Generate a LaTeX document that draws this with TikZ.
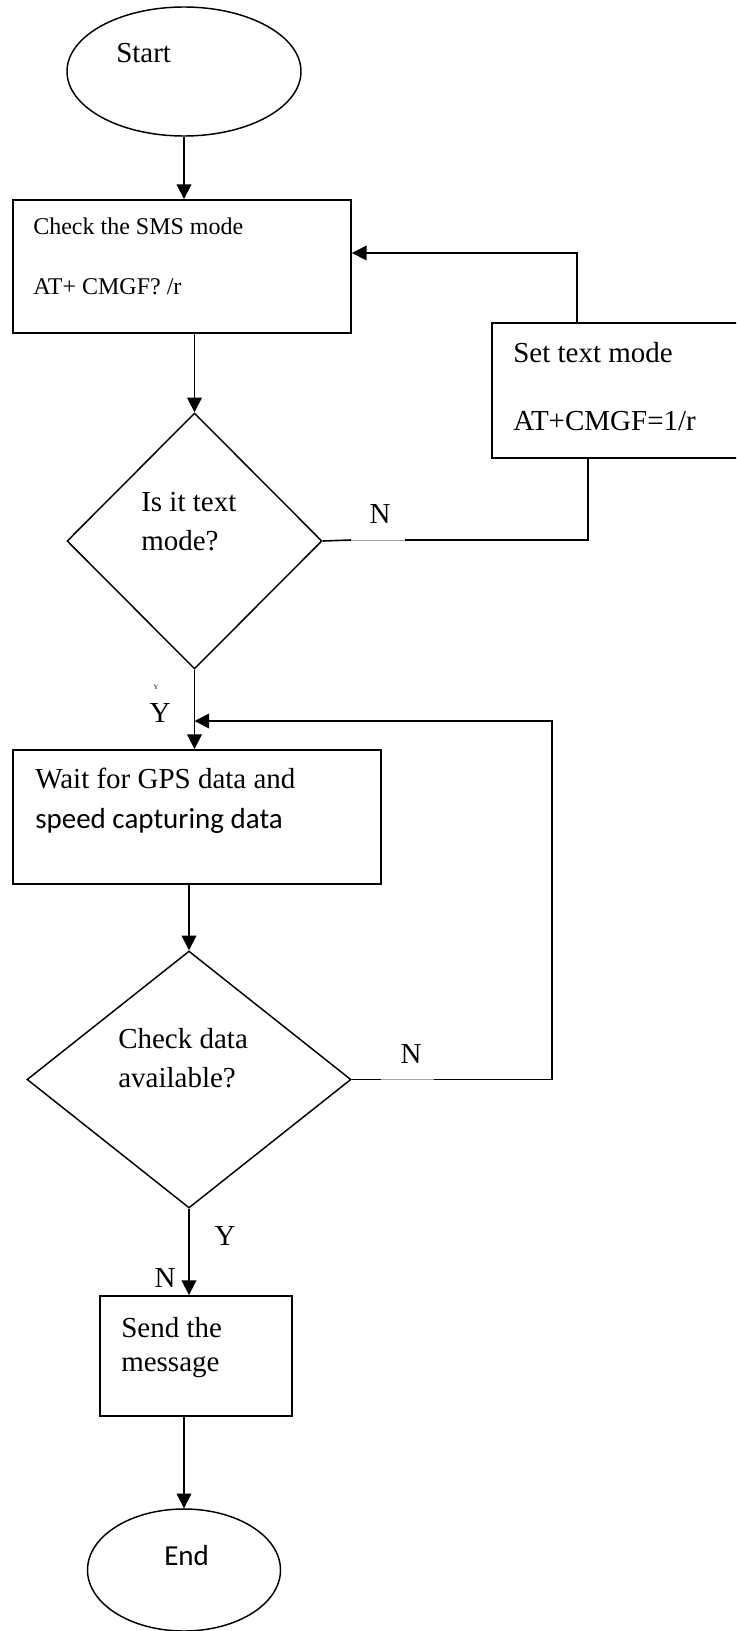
\documentclass[tikz,border=0pt]{standalone}
\usepackage{fontspec}
\setmainfont{Liberation Serif}
\newfontfamily\calib{Carlito}
\usetikzlibrary{shapes.geometric,arrows.meta}
\newcommand\mainsz{\fontsize{21.75}{26}\selectfont}
\newcommand\smallsz{\fontsize{18}{22}\selectfont}
\tikzset{
  pbox/.style={draw, line width=1.4pt, rectangle, inner sep=0pt},
  pell/.style={draw, line width=1.1pt, ellipse, inner sep=0pt},
  pdia/.style={draw, line width=1.1pt, diamond, inner sep=0pt},
  conn/.style={line width=1.2pt},
  arr/.style={conn, -{Triangle[length=11pt,width=11pt]}},
  gapline/.style={line width=0.5pt, gray!70},
  txt/.style={anchor=base west, inner sep=0pt, font=\mainsz},
  stxt/.style={anchor=base west, inner sep=0pt, font=\smallsz},
  lbl/.style={anchor=base, inner sep=0pt, font=\mainsz},
}
\begin{document}
\begin{tikzpicture}[x=0.75pt, y=-0.75pt]
\useasboundingbox (0,0) rectangle (736,1631);
\clip (0,0) rectangle (736,1631);
% shapes
\node[pell, minimum width={234*0.75pt}, minimum height={129*0.75pt}] (start) at (184,71.5) {};
\node[pbox, minimum width={338*0.75pt}, minimum height={133*0.75pt}] (box1) at (182,266.5) {};
\node[pbox, minimum width={246*0.75pt}, minimum height={135*0.75pt}] (setbox) at (615,390.5) {};
\node[pdia, minimum width={255*0.75pt}, minimum height={256*0.75pt}] (d1) at (194.5,541) {};
\node[pbox, minimum width={368*0.75pt}, minimum height={134*0.75pt}] (box2) at (197,817) {};
\node[pdia, minimum width={324*0.75pt}, minimum height={257*0.75pt}] (d2) at (189,1079.5) {};
\node[pbox, minimum width={192*0.75pt}, minimum height={120*0.75pt}] (box3) at (196,1356) {};
\node[pell, minimum width={193*0.75pt}, minimum height={122*0.75pt}] (end) at (184,1570) {};
% texts
\node[txt] (tstart) at (116,62) {Start};
\node[stxt] (t1a) at (33,234) {Check the SMS mode};
\node[stxt] (t1b) at (33,294) {AT+ CMGF? /r};
\node[txt] (tsa) at (513,362) {Set text mode};
\node[txt] (tsb) at (513,430) {AT+CMGF=1/r};
\node[txt] (td1a) at (141,511) {Is it text};
\node[txt] (td1b) at (141,550) {mode?};
\node[txt] (t2a) at (35,788) {Wait for GPS data and};
\node[txt, font=\mainsz\calib] (t2b) at (35,828) {speed capturing data};
\node[txt] (td2a) at (118,1048) {Check data};
\node[txt] (td2b) at (118,1087) {available?};
\node[txt] (t3a) at (121,1337) {Send the};
\node[txt] (t3b) at (121,1371) {message};
\node[txt, font=\mainsz\calib] (tend) at (164,1565) {End};
% labels
\node[lbl] (n1) at (380,523) {N};
\node[inner sep=0pt, font=\fontsize{5}{6}\selectfont] (ysmall) at (156,687) {Y};
\node[lbl] (y1) at (160,722) {Y};
\node[lbl] (n2) at (411,1063) {N};
\node[lbl] (y2) at (225,1245) {Y};
\node[lbl] (n3) at (165,1287) {N};
% main connectors
\draw[arr] (start.south) -- (start.south |- box1.north);
\draw[arr] (d1.north |- box1.south) -- (d1.north);
\draw[arr] (d1.south) -- (d1.south |- box2.north);
\draw[arr] (d2.north |- box2.south) -- (d2.north);
\draw[arr] (d2.south) -- (d2.south |- box3.north);
\draw[arr] (end.north |- box3.south) -- (end.north);
% set text mode loop
\coordinate (c1) at (577,253);
\draw[arr] (setbox.north -| c1) -- (c1) -- (c1 -| box1.east);
\coordinate (g1a) at (351,540);
\coordinate (g1b) at (405,540);
\coordinate (k1) at (588,540);
\draw[conn] (d1.east) -- (g1a);
\draw[gapline] (g1a) -- (g1b);
\draw[conn] (g1b) -- (k1) -- (k1 |- setbox.south);
% data loop
\coordinate (g2a) at (381,1079.5);
\coordinate (g2b) at (434,1079.5);
\coordinate (k2) at (552,1079.5);
\coordinate (k3) at (552,721);
\draw[conn] (d2.east) -- (g2a);
\draw[gapline] (g2a) -- (g2b);
\draw[arr] (g2b) -- (k2) -- (k3) -- (k3 -| d1.south);
\end{tikzpicture}
\end{document}
